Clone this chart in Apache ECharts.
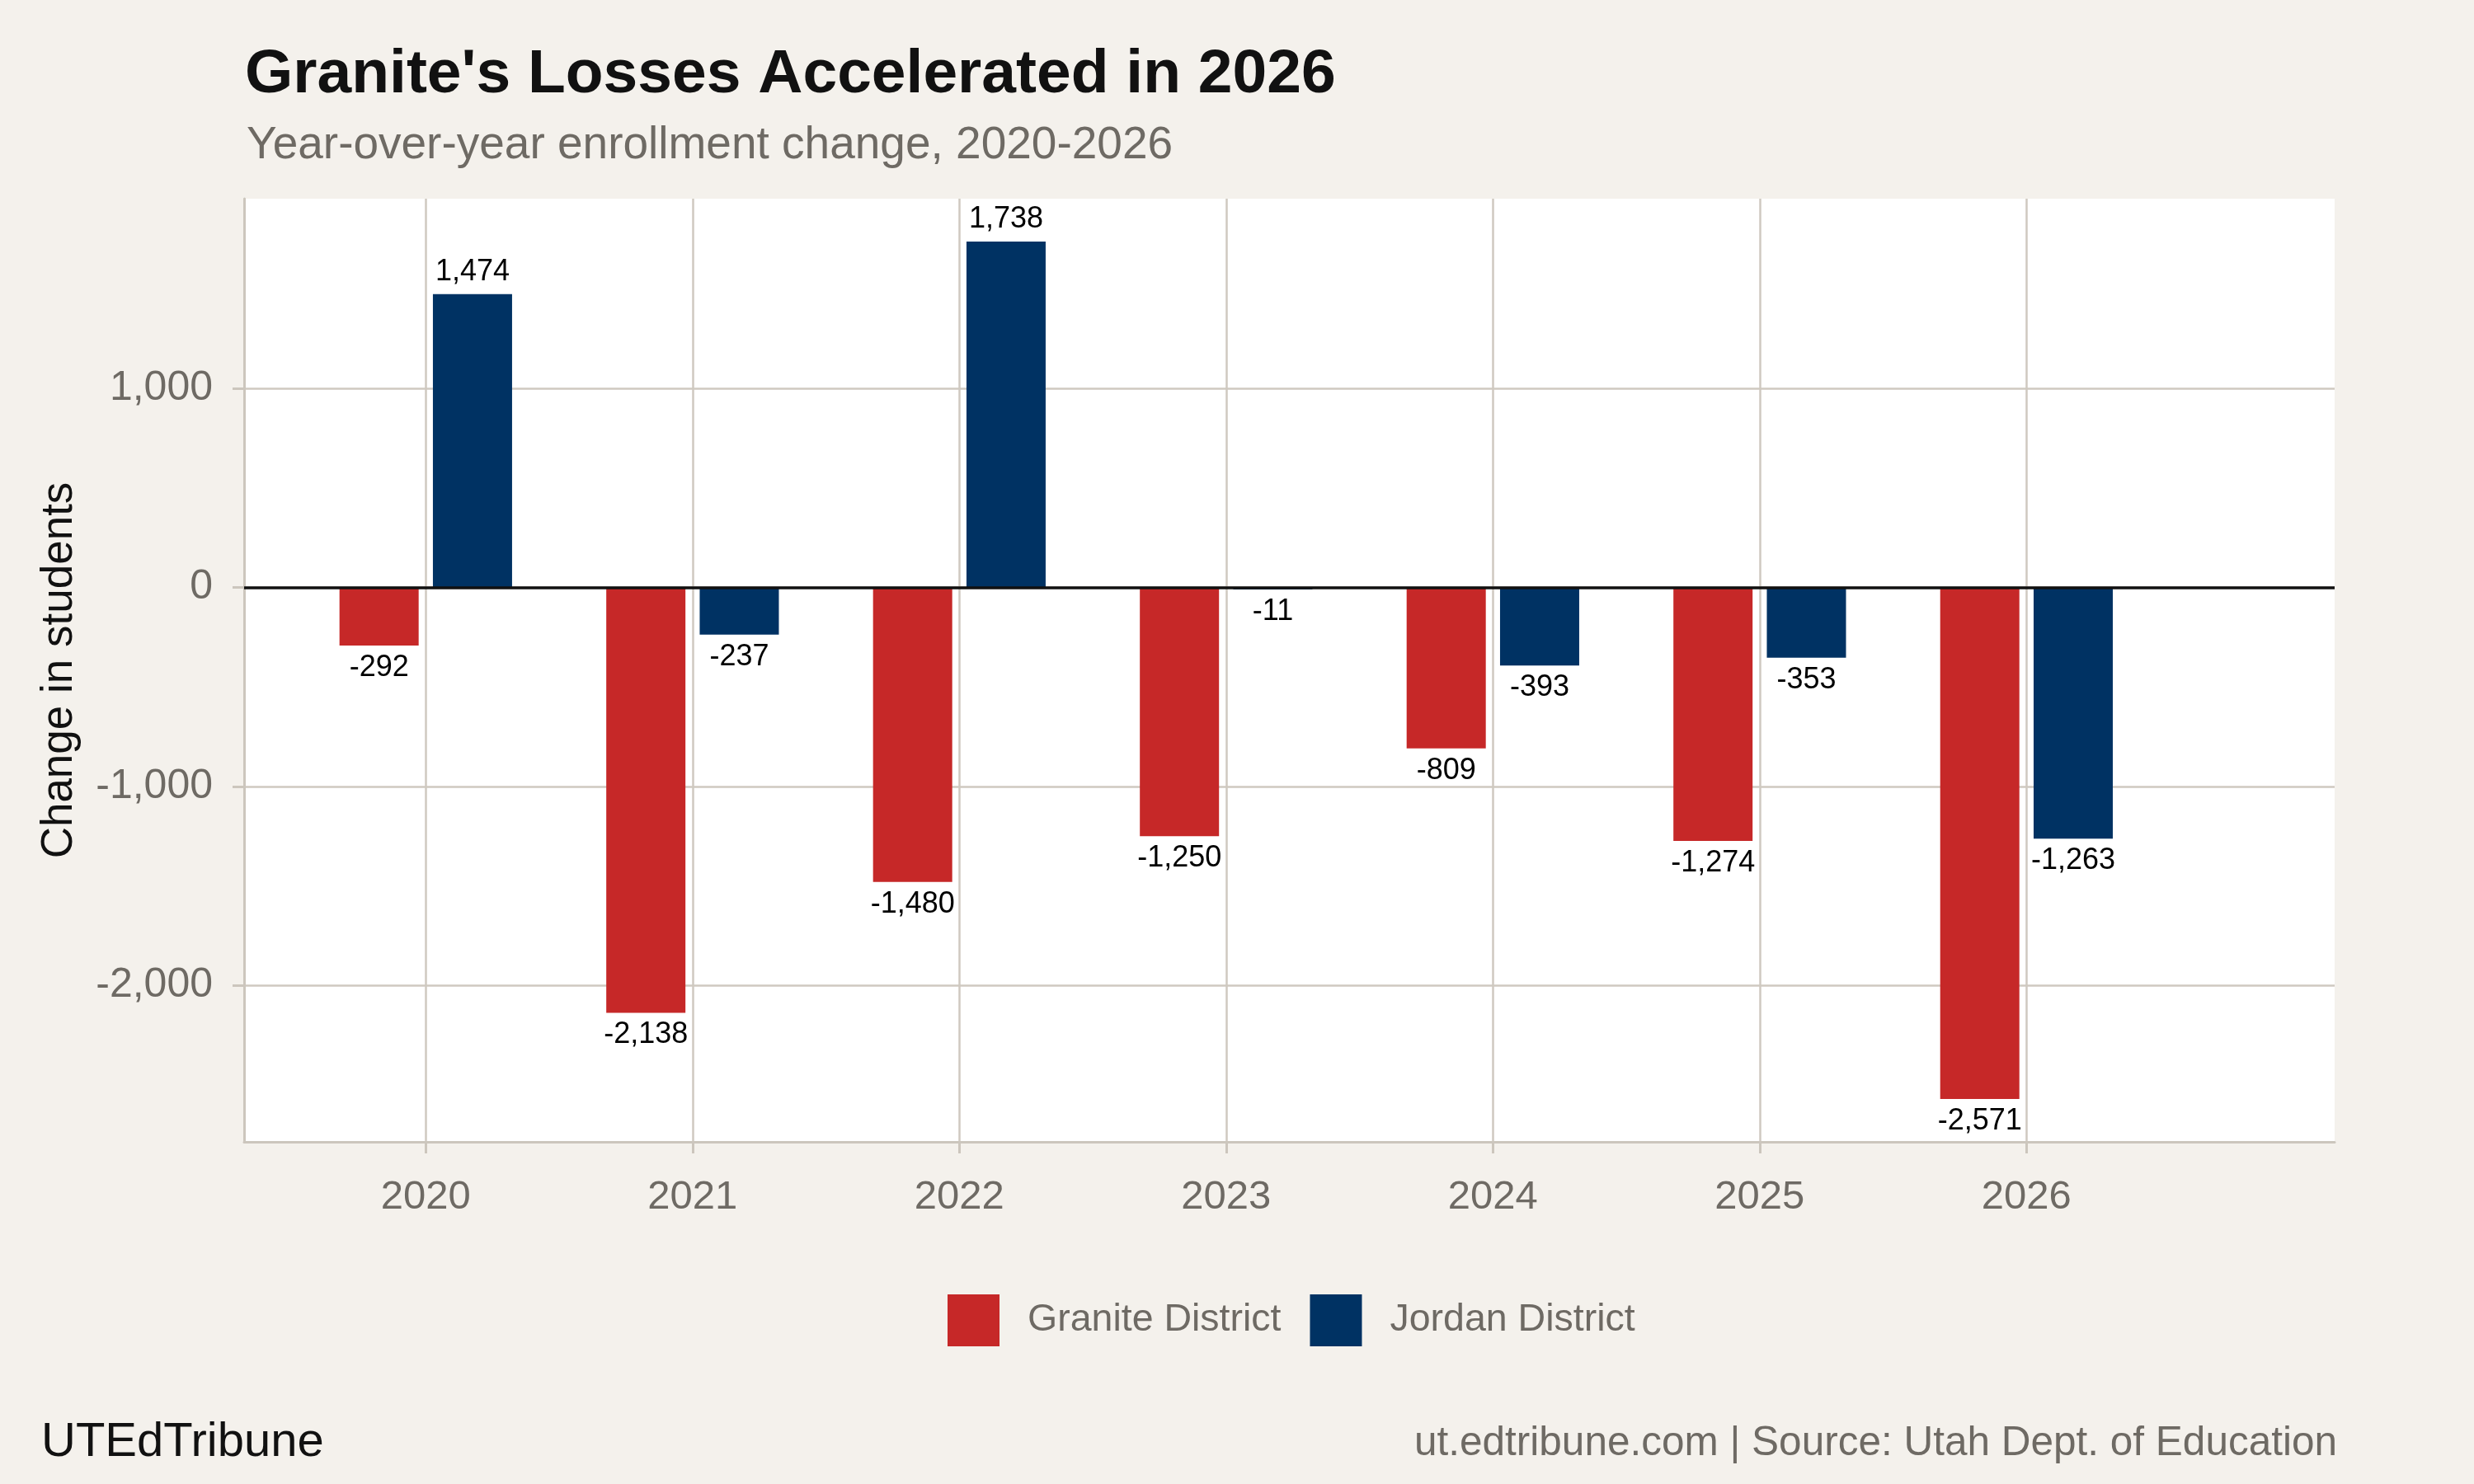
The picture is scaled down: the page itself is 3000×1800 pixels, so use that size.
<!DOCTYPE html>
<html>
<head>
<meta charset="utf-8">
<script src="https://cdn.jsdelivr.net/npm/echarts@6/dist/echarts.min.js"></script>
<style>
html,body{margin:0;padding:0;background:#F4F1EC;}
#chart{width:3000px;height:1800px;}
</style>
</head>
<body>
<div id="chart"></div>
<script>
const years = [2020, 2021, 2022, 2023, 2024, 2025, 2026];
const graniteValues = [-292, -2138, -1480, -1250, -809, -1274, -2571];
const jordanValues = [1474, -237, 1738, -11, -393, -353, -1263];
const yTicks = [-2000, -1000, 0, 1000];
const seriesNames = ['Granite District', 'Jordan District'];

const FONT = '"Liberation Sans", Arial, Helvetica, sans-serif';
const fmt = v => v.toLocaleString('en-US');

const chart = echarts.init(document.getElementById('chart'), null, {renderer: 'canvas'});

function barSeries(name, vals, color, withZero) {
  const s = {
    name: name,
    type: 'bar',
    data: years.map((y, i) => [y, vals[i]]),
    barWidth: 96,
    barGap: '18%',
    itemStyle: {color: color},
    label: {
      show: true,
      position: 'outside',
      distance: 9,
      formatter: p => fmt(p.value[1]),
      color: '#000',
      fontFamily: FONT,
      fontSize: 36
    },
    emphasis: {disabled: true}
  };
  if (withZero) {
    s.markLine = {
      silent: true,
      symbol: ['none', 'none'],
      label: {show: false},
      lineStyle: {color: '#111', width: 3.5, type: 'solid'},
      data: [{yAxis: 0}],
      z: 10
    };
  }
  return s;
}

chart.setOption({
  backgroundColor: '#F4F1EC',
  animation: false,
  title: [
    {text: "Granite's Losses Accelerated in 2026", left: 292, top: 49,
     textStyle: {fontFamily: FONT, fontSize: 75, fontWeight: 'bold', color: '#111'}},
    {text: 'Year-over-year enrollment change, 2020-2026', left: 294, top: 144,
     textStyle: {fontFamily: FONT, fontSize: 55, fontWeight: 'normal', color: '#6E6A64'}},
    {text: 'UTEdTribune', left: 45, top: 1716,
     textStyle: {fontFamily: FONT, fontSize: 58, fontWeight: 'normal', color: '#111'}},
    {text: 'ut.edtribune.com | Source: Utah Dept. of Education', right: 161, top: 1721,
     textStyle: {fontFamily: FONT, fontSize: 49.5, fontWeight: 'normal', color: '#6E6A64'}}
  ],
  legend: {
    data: seriesNames,
    left: 1144,
    top: 1565,
    icon: 'rect',
    itemWidth: 63,
    itemHeight: 63,
    itemGap: 35,
    textStyle: {fontFamily: FONT, fontSize: 46.5, color: '#6E6A64', padding: [0, 0, 0, 29]},
    selectedMode: false
  },
  grid: {left: 296, right: 169, top: 241, bottom: 415, containLabel: false,
         show: true, backgroundColor: '#FFFFFF', borderWidth: 0},
  xAxis: {
    type: 'value',
    min: 2019.319,
    max: 2027.155,
    axisLine: {show: true, onZero: false, lineStyle: {color: '#CCC6BD', width: 3}},
    axisTick: {show: true, length: 14, lineStyle: {color: '#CCC6BD', width: 3}, customValues: years},
    axisLabel: {show: true, customValues: years, formatter: v => String(v), margin: 43,
                fontFamily: FONT, fontSize: 49, color: '#6E6A64'},
    splitLine: {show: true, lineStyle: {color: '#CFC9C0', width: 2.5}}
  },
  yAxis: {
    type: 'value',
    min: -2786,
    max: 1953,
    name: 'Change in students',
    nameLocation: 'middle',
    nameGap: 197,
    nameRotate: 90,
    nameTextStyle: {fontFamily: FONT, fontSize: 53, color: '#111'},
    axisLine: {show: true, lineStyle: {color: '#CCC6BD', width: 3}},
    axisTick: {show: true, length: 14, lineStyle: {color: '#CCC6BD', width: 3}, customValues: yTicks},
    axisLabel: {show: true, customValues: yTicks, formatter: v => fmt(v), margin: 38,
                fontFamily: FONT, fontSize: 50, color: '#6E6A64'},
    splitLine: {show: true, lineStyle: {color: '#CFC9C0', width: 2.5}}
  },
  series: [
    barSeries(seriesNames[0], graniteValues, '#C62828', true),
    barSeries(seriesNames[1], jordanValues, '#003263', false)
  ]
});
</script>
</body>
</html>
